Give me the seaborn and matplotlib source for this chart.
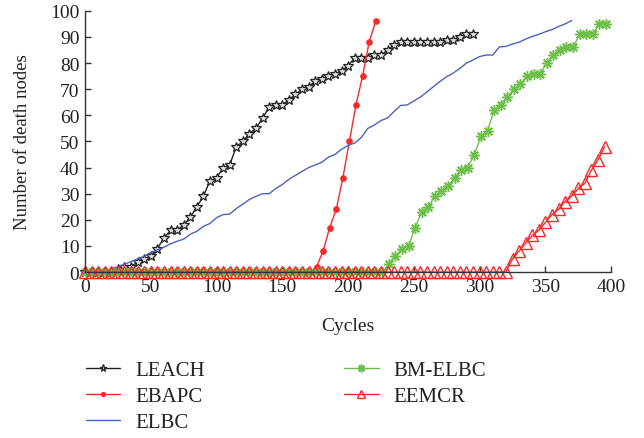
import numpy as np
import pandas as pd
import matplotlib
matplotlib.use("Agg")
import matplotlib.pyplot as plt
import seaborn as sns

# ---------------- data ----------------
leach_x = list(range(0, 300, 5))
leach_y = [0, 0, 0, 0, 0, 1, 2, 2, 4, 5, 6, 9, 13, 16, 16, 18, 21, 25, 29, 35,
           36, 40, 41, 48, 50, 53, 55, 59, 63, 64, 64, 66, 68, 70, 71, 73, 74, 75, 76, 77,
           79, 82, 82, 82, 83, 83, 85, 87, 88, 88, 88, 88, 88, 88, 88, 89, 89, 90, 91, 91]

ebapc_x = list(range(1, 222, 5))
ebapc_y = [0] * 35 + [2, 8, 17, 24, 36, 50, 64, 75, 88, 96]

elbc_x = list(range(15, 371, 5))
elbc_y = [0, 1, 2, 3, 4, 5, 6, 7.5, 8.5, 9.5, 10.8, 11.8, 12.6, 14.5, 15.6, 17.5, 18.6,
          20.8, 22, 22.2, 24.3, 26, 27.8, 29, 30, 30, 32, 33.5, 35.5, 37, 38.5, 40, 41,
          42, 44, 45, 47, 48.5, 49.4, 51.5, 55, 56.3, 58, 59, 61.5, 63.8, 64, 65.5, 67,
          69, 71, 73, 74.8, 76.2, 78, 80, 81.2, 82.5, 83.1, 83.1, 86.2, 86.4, 87.3, 88,
          89.2, 90.2, 91, 92, 92.8, 94, 95, 96.3]

bm_x = list(range(1, 397, 5))
bm_y = [0] * 46 + [3, 6, 9, 10, 17, 23, 25, 29, 31, 33, 36, 39, 40, 45, 52, 54, 62, 64,
                   67, 70, 72, 75, 76, 76, 80, 83, 85, 86, 86, 91, 91, 91, 95, 95]

eemcr_x = list(range(0, 396, 5))
eemcr_y = [0] * 65 + [5, 8, 11, 14, 16, 19, 22, 24, 27, 29, 32, 34, 39, 43, 48]

x_ticks = list(range(0, 401, 50))
y_ticks = list(range(0, 101, 10))

# ---------------- style ----------------
sns.set_theme(style="ticks")
plt.rcParams['font.family'] = ['Liberation Serif', 'DejaVu Serif']

fig = plt.figure(figsize=(6.44, 4.39), dpi=100)
ax = fig.add_axes([0.132, 0.378, 0.817, 0.595])

series = [
    ("LEACH", leach_x, leach_y, dict(color="#222222", marker="*", markersize=7,
                                     markerfacecolor="#dddddd", markeredgecolor="#222222",
                                     markeredgewidth=0.9, linewidth=1.0)),
    ("EBAPC", ebapc_x, ebapc_y, dict(color="#f52a2a", marker="o", markersize=4,
                                     markerfacecolor="#f52a2a", markeredgecolor="#f52a2a",
                                     linewidth=1.0)),
    ("ELBC", elbc_x, elbc_y, dict(color="#4a63bd", linewidth=1.0)),
    ("BM-ELBC", bm_x, bm_y, dict(color="#6cc04a", marker=(8, 2, 0), markersize=7.5,
                                 markeredgecolor="#6cc04a", markeredgewidth=1.1,
                                 linewidth=1.0)),
    ("EEMCR", eemcr_x, eemcr_y, dict(color="#f52a2a", marker="^", markersize=8,
                                     markerfacecolor="none", markeredgecolor="#f52a2a",
                                     markeredgewidth=1.0, linewidth=1.0)),
]

for name, xs, ys, kw in series:
    df = pd.DataFrame({"Cycles": xs, "Dead": ys})
    sns.lineplot(data=df, x="Cycles", y="Dead", ax=ax, label=name, clip_on=False, **kw)

ax.set_xlim(0, 400)
ax.set_ylim(0, 100)
ax.set_xticks(x_ticks)
ax.set_yticks(y_ticks)
ax.tick_params(direction="in", length=4, width=1, colors="#333333", labelsize=14,
               labelcolor="#222222", pad=4)
for s in ["top", "right"]:
    ax.spines[s].set_visible(False)
for s in ["left", "bottom"]:
    ax.spines[s].set_color("#333333")
    ax.spines[s].set_linewidth(1.0)

ax.set_xlabel("Cycles", fontsize=14, color="#222222", labelpad=16)
ax.set_ylabel("Number of death nodes", fontsize=13.5, color="#222222", labelpad=14)

ax.get_legend().remove()
handles, labels = ax.get_legend_handles_labels()
fig.legend(handles, labels, loc="upper left", bbox_to_anchor=(0.104, 0.219),
           ncol=2, frameon=False, fontsize=15, handlelength=1.65, columnspacing=6.7,
           labelspacing=0.3, handletextpad=0.72, labelcolor="#222222", markerscale=0.75)

fig.savefig("out.png", dpi=100)
